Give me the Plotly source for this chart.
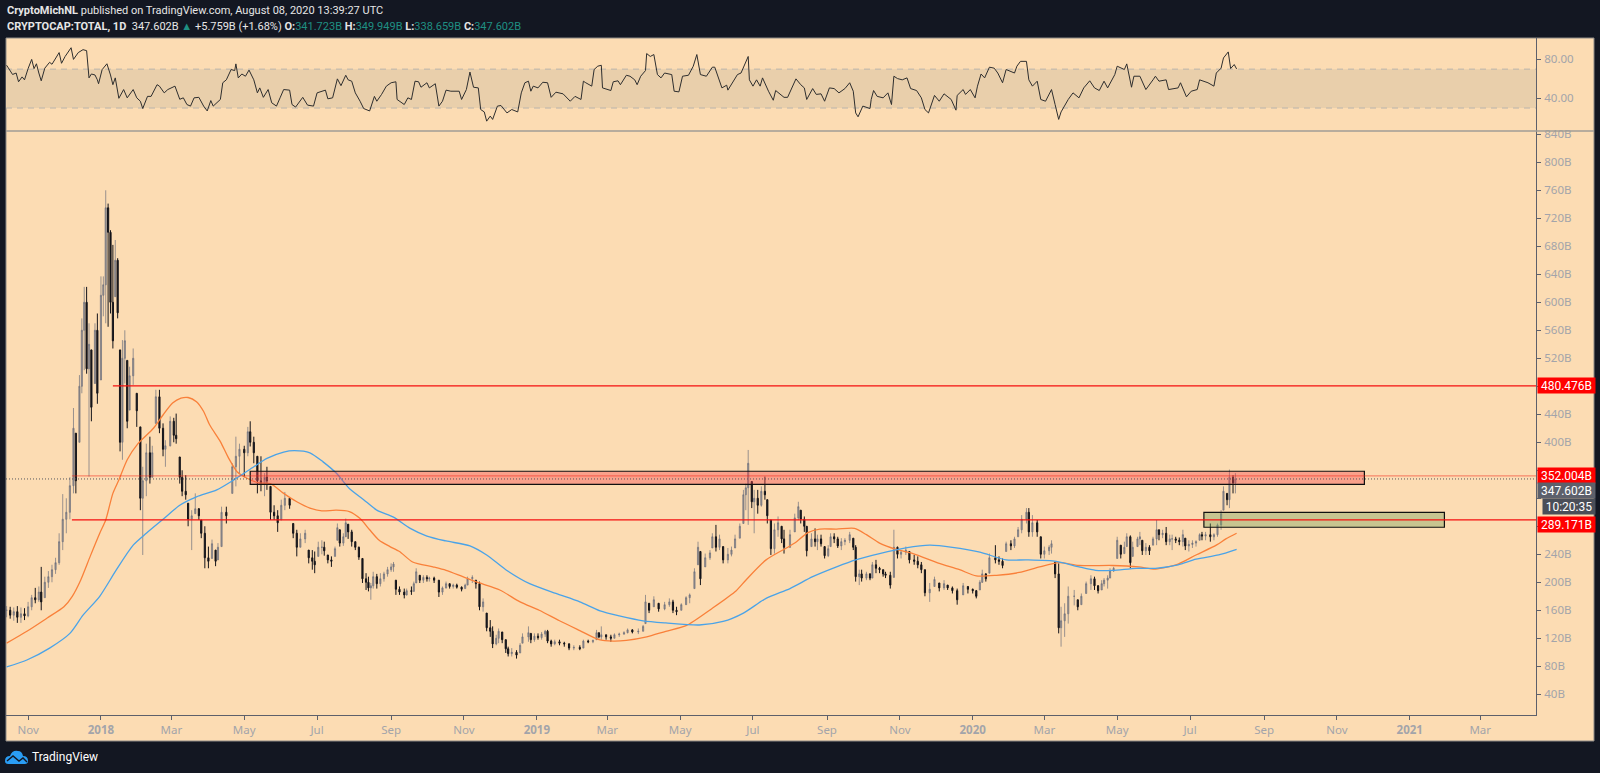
import pandas as pd
import plotly.graph_objects as go

BASE = pd.Timestamp("2018-01-01")

# ---- candle data: days since 2018-01-01, high, low, close (billions USD)
candle_day = [
-79,-76,-73,-70,-67,-64,-61,-58,-55,-52,-50,-47,-44,-41,-38,-35,-32,-29,-26,-23,
-21,-18,-16,-14,-12,-10,-8,-5,-3,0,2,4,6,8,10,12,14,16,18,20,
22,24,27,30,33,35,38,41,43,46,49,52,54,58,61,63,66,68,71,73,
76,79,82,84,87,90,93,96,98,101,105,110,113,116,120,123,125,128,131,134,
137,139,142,145,148,151,154,158,161,164,167,171,174,177,179,182,185,187,190,193,
196,198,200,203,205,207,210,213,216,219,222,224,226,228,231,234,237,240,243,245,
247,250,254,256,260,262,264,267,270,273,275,279,283,286,289,292,295,298,302,305,
307,311,314,317,320,323,326,328,331,333,336,339,341,344,348,351,353,358,360,363,
366,369,372,374,377,380,384,388,392,396,401,404,408,412,415,417,419,423,427,430,
434,438,441,445,450,454,456,459,463,467,472,476,479,482,486,490,493,497,500,502,
506,510,512,515,518,521,525,528,531,535,538,540,542,545,547,550,553,556,558,561,
564,567,570,572,577,581,584,586,589,591,595,598,600,603,606,609,611,614,617,620,
623,627,630,632,635,637,641,644,646,649,652,655,657,661,664,667,670,674,677,681,
684,687,690,694,698,702,706,709,713,717,722,726,730,733,736,738,741,744,749,752,
755,758,762,765,768,771,775,777,780,784,787,790,794,796,799,802,804,807,810,815,
818,821,825,829,832,835,838,840,843,845,848,851,854,857,859,862,864,868,870,872,
875,878,881,884,886,889,892,895,897,900,903,906,908,911,914,917,920,922,925,929,
932,935,938,940,943,945,948,950]
candle_high = [
166,165,164,166,164,163,172,182,192,194,222,208,216,225,235,270,326,320,350,449,
413,496,577,622,622,570,532,570,584,637,637,760,741,703,682,689,663,532,546,560,
517,508,534,470,422,365,398,408,395,475,475,427,403,437,435,441,379,360,353,313,
303,327,306,289,280,251,261,246,256,308,308,370,408,398,395,422,430,408,380,380,
356,365,337,310,303,318,329,320,284,275,270,275,246,246,244,258,260,258,239,237,
251,284,275,270,291,283,275,258,251,234,213,208,199,215,212,213,215,222,227,229,
203,194,191,191,194,201,220,210,210,210,208,208,203,194,201,198,198,198,194,198,
208,210,203,201,177,156,146,137,125,134,129,118,108,106,103,113,127,137,127,127,
127,129,132,132,118,118,118,115,113,110,110,118,118,118,132,128,137,125,125,127,
128,130,134,133,134,139,182,170,180,170,172,177,175,165,170,180,184,220,258,244,
241,246,270,282,268,251,249,251,268,284,332,341,389,344,332,332,337,351,318,289,
284,294,280,275,275,298,315,303,294,280,270,277,268,268,251,253,270,270,265,263,
263,272,263,253,218,218,215,213,229,232,222,218,215,215,275,251,246,251,244,239,
237,229,218,199,208,199,203,196,194,191,199,194,191,189,203,218,213,241,253,237,
234,258,260,265,279,296,306,306,296,289,265,251,253,260,229,227,165,170,194,189,
175,184,201,210,208,196,203,206,210,220,222,265,253,258,270,267,258,265,272,260,
256,253,265,289,275,275,279,268,268,265,264,275,263,260,260,260,270,272,272,284,
270,284,303,337,327,361,353,356]
candle_low = [
150,148,145,142,142,146,150,160,170,172,160,178,192,200,212,225,246,270,290,327,
327,400,470,503,498,351,430,484,455,489,580,570,565,584,534,608,577,387,375,484,
420,446,482,422,303,239,323,341,350,427,413,380,365,394,400,398,341,323,318,280,
246,298,289,263,220,220,234,223,232,251,284,327,337,356,350,380,394,370,327,330,
323,332,289,289,272,289,303,305,263,237,250,256,227,218,213,237,240,238,227,222,
237,260,251,252,265,262,251,246,232,199,189,187,175,191,191,194,201,208,215,215,
182,182,177,181,182,187,199,199,199,201,201,199,179,182,191,191,191,191,187,191,
196,199,191,160,158,130,122,106,110,113,113,99,94,94,91,99,113,115,113,115,
118,118,122,113,108,110,110,108,103,103,103,106,113,113,118,120,118,118,115,120,
122,125,127,127,126,130,141,156,165,158,160,165,156,153,160,168,170,191,225,196,
222,232,249,244,246,227,227,237,249,263,284,303,282,306,270,298,308,318,284,239,
241,265,256,241,249,272,289,284,272,237,251,251,246,251,234,236,251,256,249,246,
253,256,246,201,196,201,203,203,206,213,213,208,206,191,207,234,234,239,227,225,
220,213,180,172,194,187,189,189,184,168,182,184,184,177,189,199,201,213,227,225,
220,244,246,249,265,270,284,265,265,265,234,234,239,241,206,127,108,122,141,167,
160,168,184,189,189,184,189,194,191,206,215,234,234,241,251,220,237,251,253,239,
239,239,253,253,260,263,253,253,246,256,253,251,246,244,249,251,260,260,260,258,
260,265,275,303,310,306,327,327]
candle_close = [
160,153,158,150,155,152,165,178,175,186,172,200,208,218,228,258,290,300,338,420,
345,480,560,600,505,540,450,560,470,610,625,735,700,600,545,660,585,400,520,545,
430,495,520,445,320,345,385,350,385,465,420,390,395,430,410,405,350,330,325,290,
295,305,295,270,235,230,255,230,250,300,295,365,380,390,385,415,400,385,345,340,
350,345,300,295,285,310,320,310,270,250,262,270,235,230,225,250,250,245,232,230,
248,278,256,265,285,272,258,250,236,205,200,192,195,208,198,205,212,218,222,226,
190,186,182,188,187,198,215,203,207,205,206,203,186,192,198,194,196,193,190,196,
205,207,198,165,172,135,130,112,120,130,118,105,98,100,96,110,122,128,118,123,
121,126,130,116,112,115,113,112,106,107,105,116,115,117,128,122,125,122,120,125,
126,128,132,129,130,137,172,160,175,162,168,172,160,158,168,178,182,215,250,205,
235,242,265,250,262,232,240,246,262,280,325,335,370,315,320,310,330,325,295,248,
275,285,262,250,268,292,308,290,280,245,262,258,262,255,238,248,265,262,252,258,
260,268,250,208,212,206,212,206,225,220,218,212,210,196,250,240,243,246,232,230,
225,218,185,190,204,192,198,192,188,175,195,190,188,180,200,212,205,235,232,230,
224,255,252,262,275,290,300,272,285,272,240,245,250,255,212,135,145,155,180,180,
165,180,198,205,195,188,198,203,206,216,220,260,240,250,265,228,250,262,265,245,
250,245,262,275,268,270,258,262,262,260,258,268,252,254,256,258,268,266,268,265,
268,282,298,330,318,350,342,347.6]

# ---- moving averages
orange_day = [-79,-62,-45,-31,-24,-17,-9,-1,4,10,15,22,31,44,52,60,67,73,80,86,91,100,107,114,122,132,142,153,164,175,185,197,208,217,225,233,242,250,261,278,289,303,317,334,351,367,384,401,417,429,440,457,473,490,512,532,540,557,574,581,592,602,616,631,641,652,666,680,702,719,733,750,769,786,802,819,847,869,883,902,917,934,942,951]
orange_val = [113,130,149,165,180,203,237,270,289,327,346,375,398,420,439,456,463,464,458,444,425,401,377,358,349,342,341,327,315,306,302,303,301,291,275,260,251,244,229,222,217,208,199,189,172,160,145,131,118,116,117,122,130,138,163,188,203,232,249,256,271,276,276,277,268,256,247,241,227,218,209,210,214,222,228,224,224,222,219,226,239,253,262,270]
blue_day = [-79,-62,-43,-26,-15,-1,13,27,38,52,66,80,97,111,128,139,153,162,175,186,197,208,220,231,245,259,273,289,309,323,339,359,381,401,418,434,454,473,501,521,538,557,577,596,616,632,652,674,694,713,736,758,775,800,819,833,847,867,883,902,917,936,951]
blue_val = [79,89,106,127,153,180,218,253,270,290,310,322,332,346,365,377,386,388,385,372,356,334,318,303,293,277,266,259,252,239,218,198,184,172,159,152,145,142,139,144,156,177,191,208,222,232,241,249,253,250,243,232,232,230,222,217,217,220,220,225,233,239,247]

# ---- RSI
rsi_day = [-79,-76,-74,-71,-69,-66,-64,-61,-58,-56,-54,-52,-50,-47,-43,-41,-38,-35,-33,-30,-25,-23,-19,-15,-12,-10,-8,-5,-3,-2,1,5,8,10,12,15,19,22,27,30,33,35,39,42,47,49,53,56,62,66,69,72,75,78,82,86,89,92,94,100,102,105,109,112,113,115,118,121,124,128,131,133,136,140,143,147,150,153,158,160,163,166,169,173,178,181,188,190,194,198,201,205,207,210,213,217,220,225,229,231,235,239,243,247,248,254,257,260,
263,266,268,273,275,280,283,286,289,293,300,302,306,309,312,316,318,321,323,326,328,332,335,340,344,349,352,355,358,360,362,366,370,374,377,381,387,393,397,402,404,406,411,413,416,419,420,427,429,433,435,440,443,447,449,452,456,457,460,463,466,469,472,478,480,484,487,492,496,499,502,507,512,514,520,524,525,533,536,542,543,546,549,552,554,559,563,565,572,575,582,586,589,591,596,599,603,606,
610,614,618,623,627,630,632,634,638,644,645,647,650,655,659,662,664,667,671,675,678,683,687,690,693,698,702,706,712,716,717,722,724,728,732,734,737,740,744,748,751,755,758,765,767,770,775,777,780,784,787,791,796,799,802,804,810,814,819,823,828,832,836,840,843,849,851,857,859,863,865,870,875,881,883,886,892,894,902,904,909,913,918,920,927,932,934,938,940,944,946,949,951]
rsi_val = [74,68,64.5,66,57,62,59,70.5,80,70.5,75.5,66,58,71,77,75,81.5,87,76,83,92,80,87,90,89,61,65,64,59,55,69.5,75.5,64,54,61,40,49,40.5,49,40.5,37,29.5,42,42,54,52.5,45.6,49,52.5,39,40.5,33.6,32,40.5,41,32,27,37.7,32,38.8,56,59,69.6,68.5,75.4,61,65,62.7,69,59,45.6,50.7,41,49,35.4,32,40.5,49,48.4,33.6,31,35.4,41,33,32,45.6,48.4,39.5,40.5,60,53,63.7,59,57.6,45.6,37,29.5,27,42,37,44,52.5,56,57,38.8,33.6,40.5,38.8,
57.6,57,51.4,56,50.7,55,32,37,48.4,47.3,47.3,38.8,49,67,51.4,50.7,28.5,26,16.5,21.7,18.3,32,32.6,25,28.5,26,45.6,56,57.6,47.3,52.5,50.7,56.5,56,41,46.3,44.6,37,42,38.8,57.6,56,52.5,69.6,73,74,50.7,48,57,58,54,63.7,62.7,59,54,62.7,68.5,86,83,85,64.4,61,66,64.4,47.3,46.6,62.7,63.7,73,85,64.4,62.7,72,72,50.7,53.5,48.4,64.4,66,83,59,52.5,59,52.5,61,47.3,38,48,41,41,60,54,50.7,38.8,50,44,44.6,37,
50.7,50,45.6,50,56,47.3,25,21,32,29.5,38.8,48,42,40.5,45.6,33.6,62.7,60.3,59,61,50,48,40.5,28.5,25,43,37,44.6,38.8,27.8,43,49,44,49,40.5,52.5,65,61,72,71,66,56,69.6,66,73,78,78,59,52.5,57.6,38.8,37,49,33.6,18.3,26,38.8,45.6,40.5,50.7,58,50.7,48,57.6,50.7,64.4,73,69.6,75.4,51.4,62.7,62.7,49,59,62.7,57.6,59,49,50.7,56,41.5,47.3,49,59,56,52.5,66,71,81.5,87.7,70.6,74.7,70.2]

# ---- axis labels (the labels hidden behind the price tags in the reference stay blank)
main_tick_vals = list(range(40, 841, 40))
main_tick_text = ["" if v in (280, 320, 360, 480) else f"{v}B" for v in main_tick_vals]
rsi_tick_vals = [40, 80]
rsi_tick_text = ["40.00", "80.00"]
time_tick_dates = ["2017-11-01","2018-01-01","2018-03-01","2018-05-01","2018-07-01","2018-09-01","2018-11-01",
                   "2019-01-01","2019-03-01","2019-05-01","2019-07-01","2019-09-01","2019-11-01",
                   "2020-01-01","2020-03-01","2020-05-01","2020-07-01","2020-09-01","2020-11-01",
                   "2021-01-01","2021-03-01"]
time_tick_text = ["Nov","<b>2018</b>","Mar","May","Jul","Sep","Nov","<b>2019</b>","Mar","May","Jul","Sep","Nov",
                  "<b>2020</b>","Mar","May","Jul","Sep","Nov","<b>2021</b>","Mar"]

level_res_top = 480.476
level_mid = 352.004
level_last = 347.602
level_sup = 289.171

assert len(candle_day) == len(candle_high) == len(candle_low) == len(candle_close)
assert len(orange_day) == len(orange_val)
assert len(blue_day) == len(blue_val)
assert len(rsi_day) == len(rsi_val)


def date(d):
    return BASE + pd.Timedelta(days=d)


def dates(days):
    return [date(d) for d in days]


W, H = 1600, 773
PEACH = "#fcdcb3"
NAVY = "#131722"
AXIS = "#5d606b"
TICKTXT = "#a3a4aa"
FONT = "Noto Sans"
HEAD = "Roboto"

# open = previous close, kept inside the high/low range
candle_open = [candle_close[0]] + candle_close[:-1]
candle_open = [min(max(o, l), h) for o, l, h in zip(candle_open, candle_low, candle_high)]

fig = go.Figure()
fig.add_trace(go.Scatter(x=dates(rsi_day), y=rsi_val, xaxis="x", yaxis="y2", mode="lines",
                         line=dict(color="#2e2e2e", width=1), hoverinfo="skip"))
fig.add_trace(go.Candlestick(x=dates(candle_day), open=candle_open, high=candle_high, low=candle_low, close=candle_close,
                             xaxis="x", yaxis="y", whiskerwidth=0,
                             increasing=dict(line=dict(color="rgba(110,112,125,0.7)", width=1), fillcolor="rgba(110,112,125,0.7)"),
                             decreasing=dict(line=dict(color="#14141a", width=1), fillcolor="#14141a"),
                             hoverinfo="skip"))
fig.add_trace(go.Scatter(x=dates(orange_day), y=orange_val, xaxis="x", yaxis="y", mode="lines",
                         line=dict(color="#f9803a", width=1.3, shape="spline", smoothing=0.7), hoverinfo="skip"))
fig.add_trace(go.Scatter(x=dates(blue_day), y=blue_val, xaxis="x", yaxis="y", mode="lines",
                         line=dict(color="#4aa3e8", width=1.3, shape="spline", smoothing=0.7), hoverinfo="skip"))

line_end = date(1201.7)
shapes = [
    # page panel behind everything
    dict(type="rect", xref="paper", yref="paper", x0=6/W, x1=1594/W, y0=1-741/H, y1=1-38/H,
         fillcolor=PEACH, line=dict(color="#8d8a86", width=1), layer="below"),
    # RSI band
    dict(type="rect", xref="x", yref="y2", x0=date(-79.5), x1=line_end, y0=30, y1=70,
         fillcolor="#e9cfab", line=dict(width=0), layer="below"),
    dict(type="line", xref="x", yref="y2", x0=date(-79.5), x1=line_end, y0=70, y1=70,
         line=dict(color="#b9b5ad", width=1, dash="6px,5px"), layer="below"),
    dict(type="line", xref="x", yref="y2", x0=date(-79.5), x1=line_end, y0=30, y1=30,
         line=dict(color="#b9b5ad", width=1, dash="6px,5px"), layer="below"),
    # pane separator
    dict(type="line", xref="paper", yref="paper", x0=6/W, x1=1594/W, y0=1-131/H, y1=1-131/H,
         line=dict(color="#a09c96", width=1.5)),
    # zones
    dict(type="rect", xref="x", yref="y", x0=date(125), x1=date(1058), y0=340, y1=358.6,
         fillcolor="rgba(245,70,78,0.4)", line=dict(color="#101010", width=1.2)),
    dict(type="rect", xref="x", yref="y", x0=date(923.6), x1=date(1125), y0=278.6, y1=300,
         fillcolor="rgba(120,160,93,0.4)", line=dict(color="#101010", width=1.2)),
    # levels
    dict(type="line", xref="x", yref="y", x0=date(10), x1=line_end, y0=level_res_top, y1=level_res_top,
         line=dict(color="#f50f0f", width=1.3)),
    dict(type="line", xref="x", yref="y", x0=date(-24.3), x1=line_end, y0=level_sup, y1=level_sup,
         line=dict(color="#f50f0f", width=1.3)),
    dict(type="line", xref="x", yref="y", x0=date(-24.3), x1=line_end, y0=level_mid, y1=level_mid,
         line=dict(color="rgba(245,30,20,0.45)", width=1.2)),
    dict(type="line", xref="x", yref="y", x0=date(-79.5), x1=line_end, y0=level_last, y1=level_last,
         line=dict(color="#55565e", width=1, dash="1px,2px")),
    # logo
    dict(type="path", xref="paper", yref="paper", xsizemode="pixel", ysizemode="pixel",
         xanchor=5/W, yanchor=1-764/H,
         path="M0,3 Q0,8 5,8 Q7,14 13,13 Q17,13 18,8 Q23,8 23,3 Q23,0 20,0 L3,0 Q0,0 0,3 Z",
         fillcolor="#2a9df4", line=dict(width=0)),
    dict(type="path", xref="paper", yref="paper", xsizemode="pixel", ysizemode="pixel",
         xanchor=5/W, yanchor=1-764/H,
         path="M2,3 L8,8 L14,3 L18,6 L22,2",
         line=dict(color="#131722", width=1.4)),
]

def box(text, y, bg, shift=0, wide=True):
    return dict(text=text, xref="paper", x=(1537 if wide else 1542)/W, xanchor="left", yref="y", y=y, yanchor="middle",
                yshift=shift, showarrow=False, width=57 if wide else 52, height=15,
                bgcolor=bg, font=dict(family=HEAD, size=12, color="#ffffff"), align="center", borderpad=0)

teal = "#1f8f82"
header1 = "<b>CryptoMichNL</b> published on TradingView.com, August 08, 2020 13:39:27 UTC"
header2 = (f"<b>CRYPTOCAP:TOTAL, 1D</b>  347.602B <span style='color:{teal}'>▲</span> +5.759B (+1.68%) "
           f"<b>O:</b><span style='color:{teal}'>341.723B</span> <b>H:</b><span style='color:{teal}'>349.949B</span> "
           f"<b>L:</b><span style='color:{teal}'>338.659B</span> <b>C:</b><span style='color:{teal}'>347.602B</span>")

annotations = [
    dict(text=header1, xref="paper", yref="paper", x=5/W, y=1-11/H, xanchor="left", yanchor="middle", showarrow=False,
         font=dict(family=HEAD, size=11, color="#e6e6e6")),
    dict(text=header2, xref="paper", yref="paper", x=5/W, y=1-26/H, xanchor="left", yanchor="middle", showarrow=False,
         font=dict(family=HEAD, size=11, color="#e6e6e6")),
    dict(text="TradingView", xref="paper", yref="paper", x=30/W, y=1-757/H, xanchor="left", yanchor="middle", showarrow=False,
         font=dict(family=HEAD, size=12, color="#ffffff")),
    box("480.476B", level_res_top, "#ff0000"),
    box("352.004B", level_mid, "#ff0000"),
    box("347.602B", level_last, "#5d606b", shift=-11.5),
    box("10:20:35", level_last, "#4a4e58", shift=-28, wide=False),
    box("289.171B", level_sup, "#ff0000", shift=-4.5),
]

axis_common = dict(showgrid=False, zeroline=False, showline=True, linecolor=AXIS, linewidth=1,
                   ticks="outside", ticklen=4, tickcolor=AXIS, automargin=False,
                   tickfont=dict(family=FONT, size=11.5, color=TICKTXT))

fig.update_layout(
    width=W, height=H, autosize=False, showlegend=False,
    margin=dict(l=0, r=0, t=0, b=0, pad=0),
    paper_bgcolor=NAVY, plot_bgcolor="rgba(0,0,0,0)",
    boxgap=0.3,
    shapes=shapes, annotations=annotations,
    xaxis=dict(domain=[6/W, 1536/W], anchor="y", type="date", range=[date(-79.5), line_end],
               tickmode="array", tickvals=time_tick_dates, ticktext=time_tick_text,
               rangeslider=dict(visible=False), **axis_common),
    yaxis=dict(domain=[1-715/H, 1-131/H], anchor="x", side="right", range=[10.4, 844.7], ticklabelstandoff=1,
               tickmode="array", tickvals=main_tick_vals, ticktext=main_tick_text, **axis_common),
    yaxis2=dict(domain=[1-131/H, 1-38/H], anchor="x", side="right", range=[6.4, 102], ticklabelstandoff=1,
                tickmode="array", tickvals=rsi_tick_vals, ticktext=rsi_tick_text, **axis_common),
)

fig.write_html("out.html", config=dict(displayModeBar=False),
               post_script="document.body.style.margin='0';document.body.style.overflow='hidden';document.body.style.background='#131722';")
